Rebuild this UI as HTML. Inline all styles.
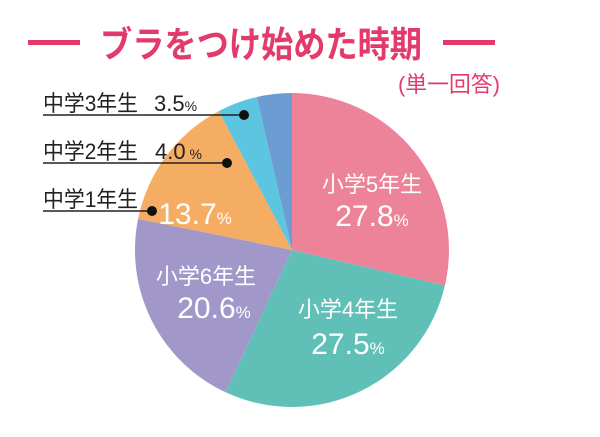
<!DOCTYPE html>
<html><head><meta charset="utf-8"><style>
body{margin:0;background:#fff;}
svg{display:block;font-family:"Liberation Sans","Noto Sans CJK JP",sans-serif;}
</style></head><body>
<svg width="600" height="437" viewBox="0 0 600 437">
<rect x="28" y="40" width="52" height="5" fill="#e33a6c"/>
<rect x="443" y="40" width="52" height="5" fill="#e33a6c"/>
<text x="100" y="57" textLength="322" lengthAdjust="spacingAndGlyphs" font-size="36" font-weight="bold" fill="#e33a6c">ブラをつけ始めた時期</text>
<text x="398" y="92" textLength="102" lengthAdjust="spacingAndGlyphs" font-size="22" fill="#e33a6c">(単一回答)</text>
<path d="M292,250 L292,93 A157,157 0 0 1 444.9,285.5 Z" fill="#ec8399"/>
<path d="M292,250 L444.9,285.5 A157,157 0 0 1 225.6,392.3 Z" fill="#60c0b8"/>
<path d="M292,250 L225.6,392.3 A157,157 0 0 1 138.1,218.9 Z" fill="#a198c9"/>
<path d="M292,250 L138.1,218.9 A157,157 0 0 1 218.8,111.1 Z" fill="#f5ad63"/>
<path d="M292,250 L218.8,111.1 A157,157 0 0 1 256.8,97 Z" fill="#5cc5e0"/>
<path d="M292,250 L256.8,97 A157,157 0 0 1 292,93 Z" fill="#6b9dd2"/>
<g fill="#222" font-size="22">
<text x="43" y="111" textLength="95" lengthAdjust="spacingAndGlyphs">中学3年生</text>
<text x="154" y="111">3.5<tspan font-size="14">%</tspan></text>
<text x="43" y="159" textLength="95" lengthAdjust="spacingAndGlyphs">中学2年生</text>
<text x="155" y="159">4.0<tspan font-size="14"> %</tspan></text>
<text x="43" y="207" textLength="95" lengthAdjust="spacingAndGlyphs">中学1年生</text>
</g>
<g stroke="#222" stroke-width="1.5">
<line x1="43" y1="115" x2="244" y2="115"/>
<line x1="43" y1="163" x2="227" y2="163"/>
<line x1="43" y1="211" x2="152" y2="211"/>
</g>
<circle cx="244" cy="115" r="5" fill="#111"/>
<circle cx="227" cy="163" r="5" fill="#111"/>
<circle cx="152" cy="211" r="5" fill="#111"/>
<g fill="#fff" text-anchor="middle">
<text x="195" y="224" font-size="30">13.7<tspan font-size="17">%</tspan></text>
<text x="372" y="192" font-size="22">小学5年生</text>
<text x="372" y="226" font-size="30">27.8<tspan font-size="17">%</tspan></text>
<text x="348" y="317" font-size="22">小学4年生</text>
<text x="348" y="354" font-size="30">27.5<tspan font-size="17">%</tspan></text>
<text x="206" y="284" font-size="22">小学6年生</text>
<text x="214" y="318" font-size="30">20.6<tspan font-size="17">%</tspan></text>
</g>
</svg>
</body></html>
